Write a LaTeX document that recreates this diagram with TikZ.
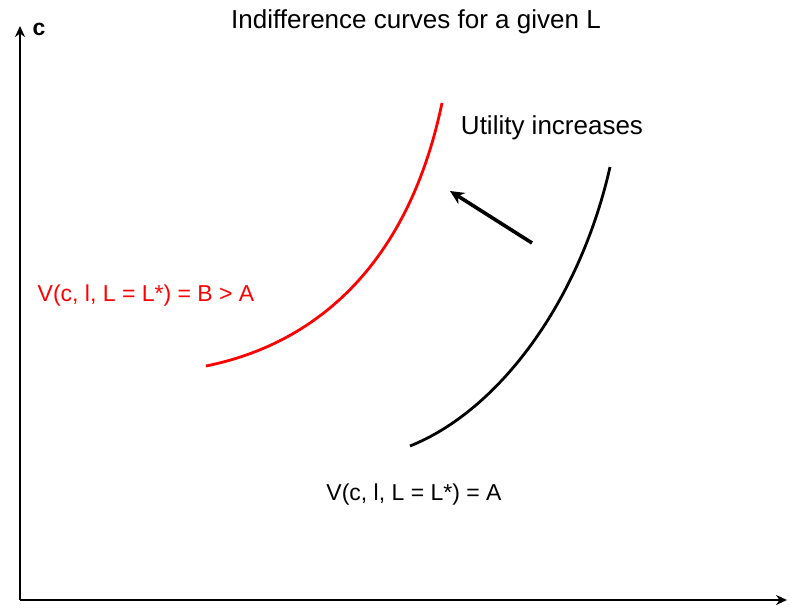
\documentclass[tikz,border=0pt]{standalone}
\usepackage{fontspec}
\setmainfont{Liberation Sans}
\usetikzlibrary{positioning,arrows.meta}

\begin{document}
\begin{tikzpicture}[
    x=1pt, y=-1pt,
    axis/.style={-{Stealth[length=11pt,width=10pt]}, line width=2.6pt, black},
    curve/.style={line width=2.8pt},
    arrow/.style={-{Stealth[length=14pt,width=13pt]}, line width=3.6pt, black},
    label/.style={font=\fontsize{26}{30}\selectfont, inner sep=0pt},
    curvelabel/.style={font=\fontsize{23}{27}\selectfont, inner sep=0pt},
]
    \useasboundingbox (0,0) rectangle (794,612);

    % Axes
    \coordinate (origin) at (20,600);
    \coordinate (ytop) at (20,26);
    \coordinate (xend) at (787,600);
    \draw[axis] (origin) -- (ytop);
    \draw[axis] (origin) -- (xend);
    \node[font=\bfseries\fontsize{23}{26}\selectfont, inner sep=0pt] (clabel) at (39,29) {c};

    % Title
    \node[label] (title) at (416,22) {Indifference curves for a given L};

    % Indifference curves
    \coordinate (redstart) at (206,366);
    \coordinate (redend) at (442,103);
    \coordinate (blackstart) at (410,446);
    \coordinate (blackend) at (610,167);
    \draw[curve, red] (redstart) .. controls (315,344) and (408,266) .. (redend);
    \draw[curve, black] (blackstart) .. controls (500,410) and (580,300) .. (blackend);

    % Direction of increase
    \coordinate (arrowfrom) at (532,243);
    \coordinate (arrowto) at (450,191);
    \draw[arrow] (arrowfrom) -- (arrowto);
    \node[label] (increase) at (552,128) {Utility increases};

    % Curve labels
    \node[curvelabel, red] (redlabel) at (146,296) {V(c, l, L = L*) = B > A};
    \node[curvelabel] (blacklabel) at (414,495) {V(c, l, L = L*) = A};
\end{tikzpicture}
\end{document}
